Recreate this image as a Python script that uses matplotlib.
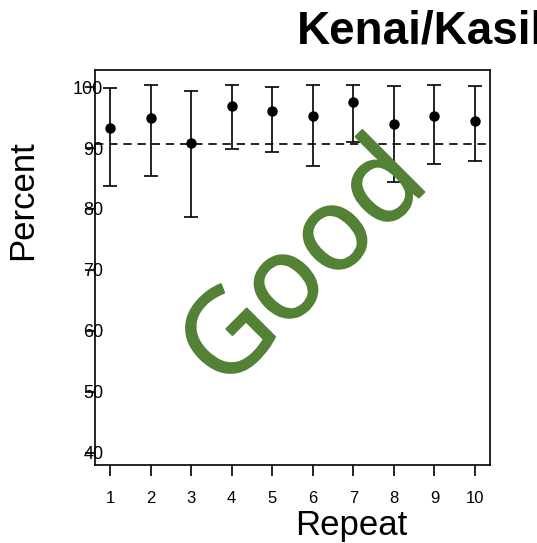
import matplotlib
matplotlib.use("Agg")
import matplotlib.pyplot as plt
import matplotlib.patheffects as pe
from matplotlib import font_manager

# drop the Narrow variants so 'Liberation Sans' resolves to the regular face
narrow = [f for f in font_manager.fontManager.ttflist if 'Narrow' in f.fname]
for f in narrow:
    font_manager.fontManager.ttflist.remove(f)

plt.rcParams['font.family'] = ['Liberation Sans', 'DejaVu Sans']

repeat = [1, 2, 3, 4, 5, 6, 7, 8, 9, 10]
percent = [93.3, 95.0, 90.8, 96.9, 96.1, 95.2, 97.5, 93.9, 95.2, 94.4]
upper = [99.8, 100.4, 99.3, 100.4, 100.0, 100.4, 100.4, 100.2, 100.4, 100.2]
lower = [83.7, 85.4, 78.7, 89.9, 89.3, 87.0, 91.0, 84.5, 87.3, 87.9]
ref_line = 90.7
yticks = [40, 50, 60, 70, 80, 90, 100]

err_lo = [p - l for p, l in zip(percent, lower)]
err_hi = [u - p for p, u in zip(percent, upper)]

fig = plt.figure(figsize=(5.37, 5.43), dpi=100)
ax = fig.add_axes([0.1769, 0.1436, 0.7356, 0.7275])

ax.errorbar(repeat, percent, yerr=[err_lo, err_hi], fmt='o', color='black',
            ms=6.5, capsize=5, elinewidth=1.2, capthick=1.2)
ax.axhline(ref_line, color='black', linestyle=(0, (5, 3.5)), linewidth=1.2)

ax.set_xlim(0.63, 10.37)
ax.set_ylim(38.0, 102.8)
ax.set_xticks(repeat)
ax.set_yticks(yticks)
ax.tick_params(axis='x', direction='out', length=8, width=1.2, pad=11, labelsize=12)
ax.tick_params(axis='y', direction='out', length=7, width=1.2, pad=-13, labelsize=13)
for lab in ax.get_yticklabels():
    lab.set_va('center_baseline')
for s in ax.spines.values():
    s.set_linewidth(1.2)

ax.set_xlabel('Repeat', fontsize=25)
ax.xaxis.label.set_va('center')
ax.xaxis.set_label_coords(0.648, -0.152)
ax.set_ylabel('Percent', fontsize=25)
ax.yaxis.label.set_va('center')
ax.yaxis.set_label_coords(-0.182, 0.67)

green = '#538135'
ax.text(0.535, 0.50, 'Good', transform=ax.transAxes, rotation=45, color=green,
        fontsize=83, family=['Open Sans', 'DejaVu Sans'],
        ha='center', va='center',
        path_effects=[pe.withStroke(linewidth=1.5, foreground=green)])

fig.text(297 / 537, 1 - 43 / 543, 'Kenai/Kasilof', fontsize=33, fontweight='bold',
         ha='left', va='baseline')

fig.savefig('out.png', dpi=100)
